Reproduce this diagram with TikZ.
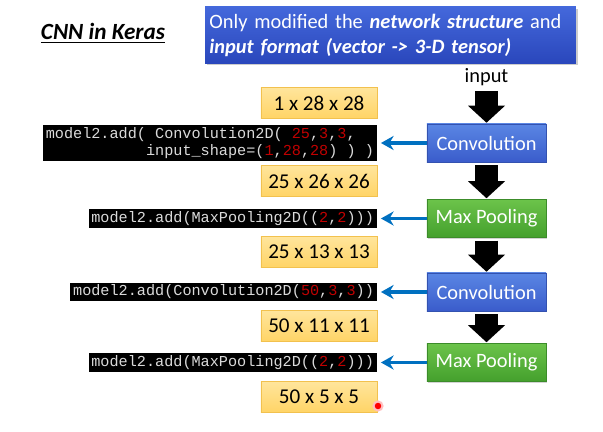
\documentclass[tikz,border=0pt]{standalone}
\usepackage{fontspec}
\setmainfont{Carlito}
\setmonofont{Liberation Mono}
\usetikzlibrary{arrows.meta,shadows}

\definecolor{convtop}{HTML}{5A86E4}
\definecolor{convbot}{HTML}{3A5CCB}
\definecolor{convline}{HTML}{3352B0}
\definecolor{pooltop}{HTML}{6CC34A}
\definecolor{poolbot}{HTML}{44A02D}
\definecolor{poolline}{HTML}{3C8C2A}
\definecolor{shapetop}{HTML}{FFE59C}
\definecolor{shapebot}{HTML}{FFD466}
\definecolor{shapeline}{HTML}{F2C14E}
\definecolor{notetop}{HTML}{4468DB}
\definecolor{notebot}{HTML}{2A47BC}
\definecolor{codegray}{HTML}{DADADA}
\definecolor{codered}{HTML}{C00000}
\definecolor{linkblue}{HTML}{0070C0}

\newcommand{\redval}[1]{\textcolor{codered}{#1}}

\tikzset{
  layer/.style={rectangle, draw=#1line, top color=#1top, bottom color=#1bot,
    minimum width=2.975cm, minimum height=0.95cm, text=white,
    font=\fontsize{14.5}{17}\selectfont,
    drop shadow={opacity=0.35, shadow xshift=1pt, shadow yshift=-1pt}},
  shapebox/.style={rectangle, draw=shapeline, top color=shapetop, bottom color=shapebot,
    minimum width=2.9cm, minimum height=0.775cm,
    font=\fontsize{15}{17}\selectfont},
  codebox/.style={rectangle, fill=black, text=codegray, anchor=east, align=left,
    inner xsep=2pt, inner ysep=1.5pt,
    font=\ttfamily\fontsize{10.8}{12.6}\selectfont},
  flowarrow/.style={line width=0.575cm,
    -{Triangle[width=0.925cm, length=0.425cm, line width=0pt]},
    shorten <=2pt, shorten >=0.7pt},
  codearrow/.style={draw=linkblue, line width=2.2pt,
    -{Stealth[length=9pt, width=10pt]}, shorten >=2.8pt}
}

\begin{document}
\begin{tikzpicture}[x=0.025cm, y=-0.025cm]
\useasboundingbox (0,0) rectangle (603,432);

%タイトルと注記
\node[anchor=west, font=\fontsize{16.5}{19}\selectfont] (title) at (36,33)
  {\underline{\textbf{\textit{CNN in Keras}}}};
\node[rectangle, top color=notetop, bottom color=notebot, text=white,
  minimum width=9.225cm, minimum height=1.4cm, text width=9.05cm, align=left,
  inner xsep=3pt, font=\fontsize{14.5}{17.8}\selectfont,
  drop shadow={opacity=0.4, shadow xshift=1.5pt, shadow yshift=-1.5pt}] (note) at (390.5,35)
  {Only modified the \textbf{\textit{network structure}} and\\
   \textbf{\textit{input format (vector -> 3-D tensor)}}};

%ネットワーク
\node[font=\fontsize{14.5}{17}\selectfont, inner ysep=1.5pt] (input) at (486.5,77) {input};
\node[layer=conv] (conv1) at (486.5,143) {Convolution};
\node[layer=pool] (pool1) at (486.5,218.5) {Max Pooling};
\node[layer=conv] (conv2) at (486.5,292) {Convolution};
\node[layer=pool] (pool2) at (486.5,362.5) {Max Pooling};

\draw[flowarrow] (input.south) -- (conv1.north);
\draw[flowarrow] (conv1.south) -- (pool1.north);
\draw[flowarrow] (pool1.south) -- (conv2.north);
\draw[flowarrow] (conv2.south) -- (pool2.north);

%各層の出力サイズ
\node[shapebox] (s0) at (319,103) {1 x 28 x 28};
\node[shapebox] (s1) at (319,181) {25 x 26 x 26};
\node[shapebox] (s2) at (319,252) {25 x 13 x 13};
\node[shapebox] (s3) at (319,326) {50 x 11 x 11};
\node[shapebox] (s4) at (319,397) {50 x 5 x 5};

%Kerasのコード
\node[codebox] (code1) at (377,143)
  {model2.add( Convolution2D( \redval{25},\redval{3},\redval{3},\\
   \hphantom{model2.add(}input\_shape=(\redval{1},\redval{28},\redval{28}) ) )};
\node[codebox] (code2) at (377,218.5) {model2.add(MaxPooling2D((\redval{2},\redval{2})))};
\node[codebox] (code3) at (377,292) {model2.add(Convolution2D(\redval{50},\redval{3},\redval{3}))};
\node[codebox] (code4) at (377,362.5) {model2.add(MaxPooling2D((\redval{2},\redval{2})))};

\draw[codearrow] (conv1.west) -- (code1.east);
\draw[codearrow] (pool1.west) -- (code2.east);
\draw[codearrow] (conv2.west) -- (code3.east);
\draw[codearrow] (pool2.west) -- (code4.east);

%ポインタ
\fill[red!25] (378,406) circle (4pt);
\fill[red] (378,406) circle (2.3pt);
\end{tikzpicture}
\end{document}
